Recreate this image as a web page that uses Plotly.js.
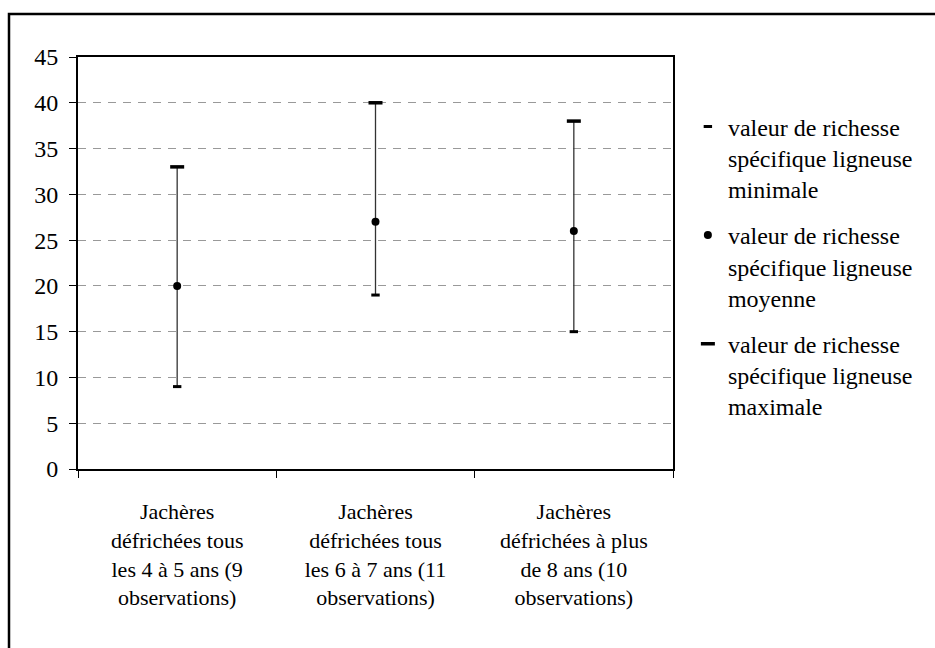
<!DOCTYPE html>
<html>
<head>
<meta charset="utf-8">
<script src="https://cdn.plot.ly/plotly-3.0.1.min.js"></script>
<style>
  html, body { margin: 0; padding: 0; background: #fff; overflow: hidden; }
  #chart { width: 935px; height: 648px; }
</style>
</head>
<body>
<div id="chart"></div>
<script>
// ---- data ----
const categories = [
  "Jachères<br>défrichées tous<br>les 4 à 5 ans (9<br>observations)",
  "Jachères<br>défrichées tous<br>les 6 à 7 ans (11<br>observations)",
  "Jachères<br>défrichées à plus<br>de 8 ans (10<br>observations)"
];
const minValues  = [9, 19, 15];
const meanValues = [20, 27, 26];
const maxValues  = [33, 40, 38];
const seriesNames = [
  "valeur de richesse<br>spécifique ligneuse<br>minimale",
  "valeur de richesse<br>spécifique ligneuse<br>moyenne",
  "valeur de richesse<br>spécifique ligneuse<br>maximale"
];
const yTicks = [0, 5, 10, 15, 20, 25, 30, 35, 40, 45];

// high-low lines built from min/max arrays
const hlX = [], hlY = [];
categories.forEach((c, i) => {
  hlX.push(c, c, null);
  hlY.push(minValues[i], maxValues[i], null);
});

const font = "Liberation Serif";

const traces = [
  {
    x: hlX, y: hlY, type: "scatter", mode: "lines",
    line: { color: "#333", width: 1.3 },
    showlegend: false, hoverinfo: "skip", connectgaps: false
  },
  {
    x: categories, y: minValues, type: "scatter", mode: "markers",
    name: seriesNames[0], legendgroup: "g1",
    marker: { symbol: "line-ew", size: 6, color: "#000", line: { color: "#000", width: 3 } }
  },
  {
    x: categories, y: meanValues, type: "scatter", mode: "markers",
    name: seriesNames[1], legendgroup: "g2",
    marker: { symbol: "circle", size: 8, color: "#000", line: { width: 0 } }
  },
  {
    x: categories, y: maxValues, type: "scatter", mode: "markers",
    name: seriesNames[2], legendgroup: "g3",
    marker: { symbol: "line-ew", size: 10, color: "#000", line: { color: "#000", width: 3.5 } }
  }
];

const layout = {
  width: 935, height: 648,
  margin: { l: 78, r: 262, t: 57, b: 179, pad: 0 },
  paper_bgcolor: "#fff", plot_bgcolor: "#fff",
  font: { family: font, size: 22, color: "#000" },
  showlegend: true,
  legend: {
    x: 1.025, xanchor: "left", y: 0.885, yanchor: "top",
    font: { family: font, size: 24, color: "#000" },
    bgcolor: "rgba(0,0,0,0)", borderwidth: 0,
    itemwidth: 30, tracegroupgap: 12, valign: "top"
  },
  xaxis: {
    type: "category",
    categoryorder: "array", categoryarray: categories,
    tickson: "boundaries",
    ticks: "outside", ticklen: 7, tickwidth: 1, tickcolor: "#000",
    showline: true, linecolor: "#000", linewidth: 2, mirror: true,
    showgrid: false, zeroline: false, automargin: false,
    tickfont: { family: font, size: 22, color: "#000" },
    ticklabelstandoff: 22,
    range: [-0.5, 2.5], fixedrange: true
  },
  yaxis: {
    range: [0, 45], tickmode: "array", tickvals: yTicks,
    ticks: "outside", ticklen: 7, tickwidth: 1, tickcolor: "#000",
    showline: true, linecolor: "#000", linewidth: 2, mirror: true,
    showgrid: true, gridcolor: "#999", gridwidth: 1, griddash: "8px,7px",
    zeroline: false, automargin: false,
    tickfont: { family: font, size: 24, color: "#000" },
    ticklabelstandoff: 6,
    fixedrange: true
  },
  shapes: [
    {
      type: "rect", xref: "paper", yref: "paper",
      x0: (9 - 78) / 595, x1: 2.0,
      y0: -1.0, y1: 1 + (57 - 14) / 412,
      line: { color: "#000", width: 2.5 }, fillcolor: "rgba(0,0,0,0)",
      layer: "above"
    }
  ]
};

Plotly.newPlot("chart", traces, layout, { displayModeBar: false, staticPlot: true });
</script>
</body>
</html>
